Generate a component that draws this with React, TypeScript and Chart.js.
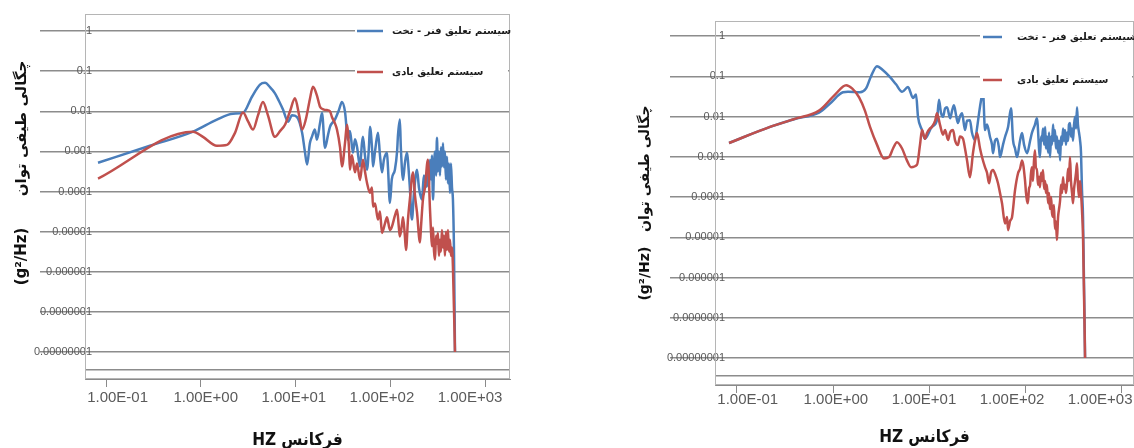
import React, { useEffect, useRef } from "react";
import { Chart, registerables } from "chart.js";

Chart.register(...registerables);

// ---------- axis ticks & labels ----------
const xTickValues = [0.1, 1, 10, 100, 1000];
const xTickLabels = ["1.00E-01", "1.00E+00", "1.00E+01", "1.00E+02", "1.00E+03"];
const yTickValues = [1, 0.1, 0.01, 0.001, 0.0001, 0.00001, 0.000001, 0.0000001, 0.00000001];
const yTickLabels = ["1", "0.1", "0.01", "0.001", "0.0001", "0.00001", "0.000001", "0.0000001", "0.00000001"];
const plotFloorLine = 3.56e-9;

const seriesNames = ["سیستم تعلیق فنر - تخت", "سیستم تعلیق بادی"];
const xTitle = "HZ فرکانس";
const yTitleText = "(g²/Hz)";
const yTitleArabic = "چگالی طیفی توان";

// ---------- left chart data ----------
const leftBlueHz = [0.0824, 0.29, 0.824, 1.47, 2.17, 2.77, 3.44, 4.18, 4.72, 5.32, 6.01, 6.62, 7.3, 8.24, 9.08, 10.2, 11.6, 12.4, 13.1, 14.0, 14.7, 15.8, 16.6, 17.9, 18.8, 20.2, 21.7, 22.8, 25.7, 28.4, 30.5, 32.8, 35.3, 37.0, 39.8, 41.8, 43.9, 47.2, 49.5, 50.7, 53.2, 55.9, 58.6, 60.1, 63.1, 64.7, 67.9, 73.0, 76.6, 80.4, 84.4, 90.8, 93.0, 97.5, 102, 110, 116, 118.5, 124, 127, 134, 140, 147, 155, 158, 166, 175, 188, 197, 212, 222, 239, 245, 251, 257, 264, 270, 277, 284, 291, 298, 305, 312, 320, 328, 336, 344, 353, 361, 370, 379, 389, 398, 408, 418, 428, 439, 449, 460, 472];
const leftBluePsd = [5.2e-4, 1.38e-3, 3.1e-3, 6.2e-3, 8.7e-3, 9.1e-3, 0.023, 0.046, 0.051, 0.04, 0.028, 0.018, 0.011, 0.0055, 0.0079, 0.0072, 0.0029, 0.001, 0.00047, 0.0016, 0.0023, 0.0035, 0.00195, 0.005, 0.0091, 0.00123, 0.0025, 0.0041, 0.0062, 0.011, 0.017, 0.0098, 0.00195, 0.0032, 0.00093, 0.002, 0.0013, 0.00042, 0.0016, 0.0023, 0.0008, 0.00035, 0.00126, 0.0041, 0.00126, 0.00042, 0.001, 0.0029, 0.0008, 0.0003, 0.00063, 0.00093, 0.0004, 0.000052, 0.0002, 0.00035, 0.001, 0.0025, 0.0062, 0.00126, 0.000195, 0.0005, 0.00093, 0.00025, 0.000126, 0.00002, 0.0001, 0.00035, 0.000126, 0.000063, 0.00025, 1.32e-4, 5.0e-4, 1.26e-4, 6.2e-4, 2.0e-4, 7.9e-4, 6.3e-5, 4.0e-4, 1.0e-3, 2.5e-4, 2.2e-3, 3.2e-4, 1e-3, 2.5e-4, 1.26e-3, 4.2e-4, 1.6e-3, 4e-4, 1e-3, 2e-4, 7.4e-4, 1.6e-4, 5e-4, 9.3e-5, 5e-4, 1.26e-4, 6.3e-5, 4.3e-6, 1e-8];

const leftRedHz = [0.0824, 0.824, 1.05, 1.47, 1.88, 2.28, 2.77, 3.13, 3.53, 3.98, 4.49, 5.07, 6.01, 6.79, 7.66, 8.65, 9.76, 10.8, 11.6, 12.7, 14.0, 15.1, 16.6, 17.9, 19.7, 21.2, 22.8, 23.9, 25.7, 27.0, 29.1, 30.5, 32.8, 34.4, 36.1, 37.0, 38.8, 41.8, 43.9, 47.2, 50.7, 53.2, 55.9, 60.1, 63.1, 64.7, 67.9, 73.0, 76.6, 80.4, 86.5, 90.8, 97.5, 102, 110, 116, 121, 124, 131, 134, 140, 144, 151, 158, 171, 179, 188, 202, 207, 217, 228, 245, 257, 264, 270, 277, 284, 291, 298, 305, 312, 320, 328, 336, 344, 353, 361, 370, 379, 389, 398, 408, 418, 428, 439, 449, 472];
const leftRedPsd = [2.1e-4, 3.1e-3, 0.0023, 0.00138, 0.00145, 0.0029, 0.0093, 0.0056, 0.0035, 0.0079, 0.017, 0.0079, 0.0023, 0.0032, 0.0046, 0.01, 0.021, 0.0079, 0.0035, 0.0063, 0.02, 0.041, 0.025, 0.013, 0.011, 0.0107, 0.01, 0.0072, 0.005, 0.0035, 0.00126, 0.00042, 0.0016, 0.0046, 0.00126, 0.00035, 0.0008, 0.0003, 0.0005, 0.000195, 0.00062, 0.00032, 0.000166, 0.000093, 0.000126, 0.000042, 0.00005, 0.00002, 0.000032, 9.3e-6, 0.000016, 0.000023, 0.000011, 0.000013, 0.000025, 0.000035, 0.000013, 7.6e-6, 0.000016, 0.000023, 7.9e-6, 3.5e-6, 0.00002, 0.000063, 0.0003, 0.000079, 0.00003, 5.4e-6, 0.000013, 0.000063, 0.000126, 0.00062, 4e-5, 1e-5, 4.3e-6, 1.26e-5, 3.2e-6, 2e-6, 7.9e-6, 5e-6, 9.3e-6, 2.5e-6, 6.3e-6, 3.2e-6, 1.1e-5, 4e-6, 7.9e-6, 2.5e-6, 1e-5, 3.5e-6, 1.1e-5, 3.2e-6, 6.3e-6, 2.5e-6, 4e-6, 1.35e-6, 1e-8];

// ---------- right chart data ----------
const rightBlueHz = [0.0826, 0.221, 0.40, 0.715, 0.931, 1.27, 1.43, 1.91, 2.21, 2.49, 2.87, 3.32, 3.93, 4.53, 5.24, 6.04, 6.81, 7.33, 7.68, 8.45, 9.08, 9.53, 10.7, 12.1, 12.7, 13.3, 14.0, 14.7, 15.4, 16.6, 17.4, 18.2, 19.1, 20.0, 21.0, 22.1, 23.7, 24.9, 26.7, 28.0, 30.1, 31.6, 33.2, 34.8, 36.5, 38.3, 40.2, 43.2, 45.3, 46.4, 48.7, 51.1, 53.6, 54.9, 59.0, 61.9, 66.6, 71.5, 75.0, 78.7, 82.6, 88.7, 93.1, 97.7, 105, 113, 118, 127, 133, 143, 147, 150, 154, 158, 162, 165, 169, 174, 178, 182, 187, 191, 196, 200, 205, 210, 215, 221, 226, 232, 237, 243, 249, 255, 261, 267, 274, 281, 287, 294, 301, 309, 316, 324, 332, 340, 348, 356, 365, 374, 383, 392, 402, 422];
const rightBluePsd = [0.0022, 0.0055, 0.0087, 0.0125, 0.021, 0.04, 0.041, 0.04, 0.05, 0.1, 0.178, 0.141, 0.095, 0.063, 0.041, 0.054, 0.029, 0.035, 0.0098, 0.0046, 0.0028, 0.0032, 0.0055, 0.0081, 0.026, 0.0126, 0.0098, 0.016, 0.017, 0.0091, 0.014, 0.019, 0.011, 0.0069, 0.01, 0.012, 0.0046, 0.0079, 0.0081, 0.004, 0.0026, 0.005, 0.012, 0.025, 0.041, 0.0046, 0.0063, 0.0031, 0.002, 0.00123, 0.0025, 0.0028, 0.0016, 0.00098, 0.002, 0.0031, 0.0055, 0.016, 0.0026, 0.0016, 0.00098, 0.0025, 0.0039, 0.002, 0.00123, 0.0025, 0.0039, 0.0063, 0.0091, 9.8e-4, 3.2e-3, 2.5e-3, 5.0e-3, 2.0e-3, 5.5e-3, 1.6e-3, 3.2e-3, 1.26e-3, 4.0e-3, 9.8e-4, 3.2e-3, 2.0e-3, 6.3e-3, 2.5e-3, 4.6e-3, 1.6e-3, 3.2e-3, 1.26e-3, 2.5e-3, 8.1e-4, 3.2e-3, 2.0e-3, 5.0e-3, 2.5e-3, 4.6e-3, 2.0e-3, 4.0e-3, 2.5e-3, 6.3e-3, 6.9e-3, 3.2e-3, 5.0e-3, 2.5e-3, 6.3e-3, 9.8e-3, 5.0e-3, 0.017, 6.3e-3, 4.0e-3, 2.6e-3, 1.26e-3, 1.48e-4, 3.2e-5, 1e-8];

const rightRedHz = [0.0826, 0.221, 0.40, 0.715, 1.05, 1.37, 1.58, 1.87, 2.15, 2.43, 2.87, 3.40, 3.83, 4.22, 4.64, 5.24, 5.9, 6.50, 7.50, 8.06, 8.45, 9.08, 9.53, 10.2, 10.7, 11.6, 12.1, 13.0, 14.0, 14.7, 15.8, 16.6, 17.8, 18.7, 20.0, 21.0, 22.6, 23.7, 24.9, 26.7, 28.7, 30.1, 31.6, 34.0, 35.6, 38.3, 40.2, 42.2, 44.2, 46.4, 49.9, 52.3, 54.9, 57.6, 61.9, 65.0, 66.6, 69.8, 73.3, 78.7, 84.6, 88.7, 93.1, 100, 102.4, 105, 107, 110, 113, 115.5, 118, 121, 124, 127, 130, 133, 136.5, 140, 143, 147, 150, 154, 158, 162, 165, 169, 174, 178, 182, 187, 191, 196, 200, 205, 210, 215, 221, 226, 232, 237, 243, 249, 255, 261, 267, 274, 281, 287, 294, 301, 309, 316, 324, 332, 340, 348, 356, 365, 374, 383, 392, 402, 422];
const rightRedPsd = [0.0022, 0.0055, 0.0087, 0.014, 0.035, 0.06, 0.05, 0.03, 0.014, 0.0055, 0.002, 0.00091, 0.00098, 0.0016, 0.0023, 0.0016, 0.0008, 0.00055, 0.00063, 0.002, 0.0046, 0.0028, 0.0039, 0.005, 0.0055, 0.0079, 0.012, 0.0063, 0.0035, 0.0046, 0.0026, 0.004, 0.0046, 0.0025, 0.00195, 0.0032, 0.0028, 0.0016, 0.00081, 0.00031, 0.00123, 0.0025, 0.0039, 0.0016, 0.001, 0.00055, 0.0004, 0.00022, 0.0004, 0.00047, 0.00032, 0.00022, 0.000126, 0.00007, 0.000022, 0.000032, 0.000015, 0.000025, 0.000032, 0.000148, 0.00039, 0.0005, 0.00081, 2.6e-4, 1.26e-4, 7.9e-5, 7.0e-5, 1.6e-4, 2.0e-4, 4.0e-4, 5.5e-4, 2.5e-4, 7.9e-4, 1.45e-3, 5.0e-4, 5.0e-4, 2.0e-4, 3.2e-4, 1.74e-4, 4.0e-4, 2.5e-4, 4.7e-4, 1.6e-4, 2.5e-4, 1.26e-4, 2.0e-4, 7.0e-5, 1.26e-4, 5.0e-5, 1.0e-4, 4.0e-5, 3.2e-5, 6.3e-5, 1.6e-5, 2.5e-5, 8.5e-6, 3.2e-5, 5.0e-5, 8.3e-5, 2.0e-4, 1.26e-4, 3.1e-4, 1.6e-4, 2.0e-4, 1.26e-4, 2.2e-4, 5.0e-4, 2.5e-4, 9.8e-4, 2.5e-4, 1.26e-4, 7.0e-5, 1.6e-4, 2.5e-4, 4.0e-4, 6.9e-4, 2.0e-4, 1.0e-4, 2.5e-4, 1.26e-4, 4.7e-5, 1.0e-5, 1e-8];

const blueColor = "#4a7ebb";
const redColor = "#c0504d";
const gridColor = "#8c8c8c";
const yTickFont = '"Liberation Sans", Arial, sans-serif';

type LegendOpts = {
  boxFrom: number; boxTop: number; boxHeight: number;
  lineFrom: number; lineTo: number; textFrom: number; rows: number[]; font: string;
};

type PanelSpec = {
  blueHz: number[]; bluePsd: number[]; redHz: number[]; redPsd: number[];
  areaLeft: number; areaTop: number; padRight: number;
  xAxisHeight: number; labelAxisHeight: number;
  xMin: number; xMax: number; labMin: number; labMax: number; yMin: number; yMax: number;
  tickLen: number; yLabelShift: number;
  yTitle: string; yTitleSize: number; yTitlePad: number;
  xLabelPad: number; xTitlePad: number;
  legend: LegendOpts;
};

const leftSpec: PanelSpec = {
  blueHz: leftBlueHz, bluePsd: leftBluePsd, redHz: leftRedHz, redPsd: leftRedPsd,
  areaLeft: 85, areaTop: 14, padRight: 57,
  xAxisHeight: 8, labelAxisHeight: 61,
  xMin: 0.0601, xMax: 1791, labMin: 0.04266, labMax: 2844, yMin: 2.13e-9, yMax: 2.65,
  tickLen: 45, yLabelShift: 7,
  yTitle: " ".repeat(9) + yTitleText + "      " + yTitleArabic, yTitleSize: 15, yTitlePad: 13,
  xLabelPad: -6, xTitlePad: -3,
  legend: { boxFrom: 155, boxTop: 5, boxHeight: 72, lineFrom: 153, lineTo: 127, textFrom: 118, rows: [17, 58], font: 'bold 10px "DejaVu Sans", sans-serif' },
};

const rightSpec: PanelSpec = {
  blueHz: rightBlueHz, bluePsd: rightBluePsd, redHz: rightRedHz, redPsd: rightRedPsd,
  areaLeft: 148, areaTop: 21, padRight: 0,
  xAxisHeight: 8, labelAxisHeight: 55,
  xMin: 0.059, xMax: 1365, labMin: 0.04246, labMax: 2421, yMin: 2.13e-9, yMax: 2.36,
  tickLen: 45, yLabelShift: 10,
  yTitle: yTitleText + "   " + yTitleArabic, yTitleSize: 14, yTitlePad: 70,
  xLabelPad: -10, xTitlePad: 0,
  legend: { boxFrom: 154, boxTop: 5, boxHeight: 72, lineFrom: 151, lineTo: 132, textFrom: 117, rows: [16, 59], font: 'bold 10px "DejaVu Sans", sans-serif' },
};

const framePlugin = {
  id: "plotFrame",
  beforeDatasetsDraw(chart: any) {
    const { ctx, chartArea } = chart;
    ctx.save();
    ctx.strokeStyle = "#b5b5b5";
    ctx.lineWidth = 1;
    ctx.strokeRect(chartArea.left + 0.5, chartArea.top + 0.5, chartArea.width - 1, chartArea.height - 1);
    ctx.restore();
  },
};

const cornerLegendPlugin = {
  id: "cornerLegend",
  afterDatasetsDraw(chart: any, _args: any, opts: LegendOpts) {
    const { ctx, chartArea } = chart;
    const r = chartArea.right;
    ctx.save();
    ctx.fillStyle = "#ffffff";
    ctx.fillRect(r - opts.boxFrom, chartArea.top + opts.boxTop, opts.boxFrom - 2, opts.boxHeight);
    chart.data.datasets.forEach((ds: any, i: number) => {
      const y = chartArea.top + opts.rows[i];
      ctx.strokeStyle = ds.borderColor;
      ctx.lineWidth = 2.5;
      ctx.beginPath();
      ctx.moveTo(r - opts.lineFrom, y);
      ctx.lineTo(r - opts.lineTo, y);
      ctx.stroke();
      ctx.fillStyle = "#1a1a1a";
      ctx.font = opts.font;
      ctx.textAlign = "left";
      ctx.textBaseline = "middle";
      ctx.fillText(ds.label, r - opts.textFrom, y);
    });
    ctx.restore();
  },
};

function toPoints(hz: number[], psd: number[]) {
  const n = Math.min(hz.length, psd.length);
  const pts = [];
  for (let i = 0; i < n; i++) pts.push({ x: hz[i], y: psd[i] });
  return pts;
}

function widestYLabel(size: number): number {
  const c = document.createElement("canvas").getContext("2d");
  if (!c) return 58;
  c.font = `${size}px ${yTickFont}`;
  return Math.max(...yTickLabels.map((t) => c.measureText(t).width));
}

function buildConfig(spec: PanelSpec): any {
  const setXTicks = (s: any) => {
    s.ticks = xTickValues.map((v) => ({ value: v }));
  };
  const yFontSize = 11;
  const widest = widestYLabel(yFontSize);
  return {
    type: "line",
    data: {
      datasets: [
        {
          label: seriesNames[0],
          data: toPoints(spec.blueHz, spec.bluePsd),
          borderColor: blueColor,
          backgroundColor: blueColor,
          borderWidth: 2.5,
          pointRadius: 0,
          cubicInterpolationMode: "monotone",
          order: 2,
        },
        {
          label: seriesNames[1],
          data: toPoints(spec.redHz, spec.redPsd),
          borderColor: redColor,
          backgroundColor: redColor,
          borderWidth: 2.5,
          pointRadius: 0,
          cubicInterpolationMode: "monotone",
          order: 1,
        },
      ],
    },
    options: {
      animation: false,
      responsive: false,
      maintainAspectRatio: false,
      events: [],
      layout: { padding: { left: 0, top: spec.areaTop, right: spec.padRight, bottom: 0 } },
      plugins: {
        legend: { display: false },
        title: { display: false },
        tooltip: { enabled: false },
        cornerLegend: spec.legend,
      },
      scales: {
        x: {
          type: "logarithmic",
          position: "bottom",
          weight: 0,
          min: spec.xMin,
          max: spec.xMax,
          afterBuildTicks: setXTicks,
          ticks: { display: false },
          grid: { drawOnChartArea: false, drawTicks: true, tickLength: 8, color: "#8a8a8a" },
          border: { display: true, color: "#8a8a8a" },
          afterFit: (s: any) => {
            s.height = spec.xAxisHeight;
          },
        },
        xl: {
          type: "logarithmic",
          position: "bottom",
          weight: 1,
          min: spec.labMin,
          max: spec.labMax,
          afterBuildTicks: setXTicks,
          ticks: {
            display: true,
            autoSkip: false,
            maxRotation: 0,
            padding: spec.xLabelPad,
            color: "#5a5a5a",
            font: { family: '"Liberation Sans", Arial, sans-serif', size: 15 },
            callback: (v: number) => {
              const i = xTickValues.indexOf(v);
              return i >= 0 ? xTickLabels[i] : "";
            },
          },
          grid: { display: false },
          border: { display: false },
          title: {
            display: true,
            text: xTitle,
            color: "#111",
            font: { family: '"Liberation Sans Narrow", "DejaVu Sans Condensed", "DejaVu Sans", sans-serif', size: 17, weight: "bold" },
            padding: { top: 0, bottom: spec.xTitlePad },
          },
          afterFit: (s: any) => {
            s.height = spec.labelAxisHeight;
          },
        },
        y: {
          type: "logarithmic",
          position: "left",
          min: spec.yMin,
          max: spec.yMax,
          afterBuildTicks: (s: any) => {
            s.ticks = [...yTickValues, plotFloorLine].map((v) => ({ value: v }));
          },
          ticks: {
            autoSkip: false,
            mirror: true,
            crossAlign: "far",
            padding: spec.yLabelShift - widest,
            color: "#5a5a5a",
            font: { family: yTickFont, size: yFontSize },
            callback: (v: number) => {
              const i = yTickValues.indexOf(v);
              return i >= 0 ? yTickLabels[i] : "";
            },
          },
          grid: {
            color: gridColor,
            lineWidth: 1.4,
            drawTicks: true,
            tickLength: spec.tickLen,
            tickColor: (c: any) => (c.tick && c.tick.value === plotFloorLine ? "rgba(0,0,0,0)" : gridColor),
          },
          border: { display: true, color: "#b0b0b0" },
          title: {
            display: true,
            text: spec.yTitle,
            color: "#111",
            font: { family: '"DejaVu Sans", sans-serif', size: spec.yTitleSize, weight: "bold" },
            padding: { top: spec.yTitlePad, bottom: 0 },
          },
          afterFit: (s: any) => {
            s.width = spec.areaLeft;
          },
        },
      },
    },
    plugins: [framePlugin, cornerLegendPlugin],
  };
}

function Panel({ spec, left }: { spec: PanelSpec; left: number }) {
  const ref = useRef<HTMLCanvasElement>(null);
  useEffect(() => {
    if (!ref.current) return;
    const chart = new Chart(ref.current, buildConfig(spec));
    return () => chart.destroy();
  }, [spec]);
  return (
    <canvas
      ref={ref}
      width={567}
      height={448}
      style={{ position: "absolute", left, top: 0, width: 567, height: 448 }}
    />
  );
}

export default function App() {
  return (
    <div
      style={{
        position: "absolute",
        left: 0,
        top: 0,
        width: 1134,
        height: 448,
        background: "#ffffff",
        overflow: "hidden",
      }}
    >
      <Panel spec={leftSpec} left={0} />
      <Panel spec={rightSpec} left={567} />
    </div>
  );
}
